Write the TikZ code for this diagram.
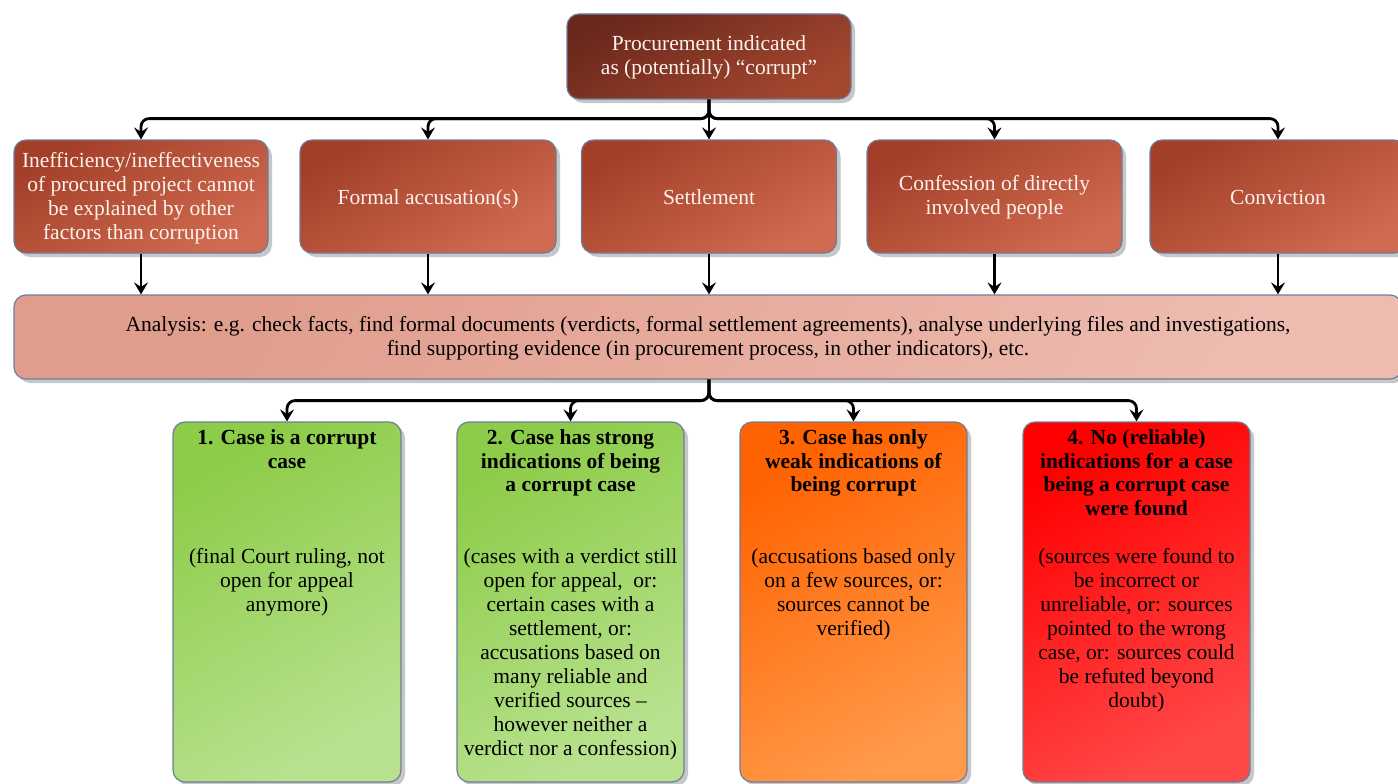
\documentclass[tikz,border=0pt]{standalone}
\usepackage{fontspec}
\setmainfont{Liberation Serif}
\usetikzlibrary{arrows.meta,shadows}

\definecolor{topA}{HTML}{6B281C}
\definecolor{topB}{HTML}{A3472F}
\definecolor{midA}{HTML}{A33F29}
\definecolor{midB}{HTML}{D06A50}
\definecolor{anaA}{HTML}{E09C8C}
\definecolor{anaB}{HTML}{EDBBAF}
\definecolor{grA}{HTML}{8DCC48}
\definecolor{grB}{HTML}{B9E290}
\definecolor{orA}{HTML}{FF6200}
\definecolor{orB}{HTML}{FF9A4A}
\definecolor{rdA}{HTML}{FF0000}
\definecolor{rdB}{HTML}{FF4848}
\definecolor{edge}{HTML}{6E7C9C}
\definecolor{lighttext}{HTML}{FBF3EC}

\tikzset{
  box/.style={draw=edge, line width=1.2pt, rounded corners=12pt, inner sep=0pt,
    align=center, font=\fontsize{21.5}{24}\selectfont,
    drop shadow={shadow xshift=4pt, shadow yshift=-4pt, fill=black!22, opacity=1}},
  grad/.style 2 args={top color=#1, bottom color=#2, shading angle=30},
  oneline/.style={text height=15pt, text depth=0pt},
  txt/.style={inner sep=0pt, align=center, font=\fontsize{21.5}{24}\selectfont},
  ttl/.style={txt, font=\fontsize{21.5}{23.7}\selectfont\bfseries},
  conn/.style={line width=2.8pt, rounded corners=8pt, -{Stealth[length=12pt,width=14pt,inset=4.5pt]}},
}

\begin{document}
\begin{tikzpicture}[x=1pt,y=1pt]
\useasboundingbox (0,0) rectangle (1398,-784);
\clip (0,0) rectangle (1398,-784);

% top
\node[box, grad={topA}{topB}, text=lighttext, minimum width=284pt, minimum height=85pt, text depth=2pt]
  (top) at (709,-56.5) {Procurement indicated\\as (potentially) ``corrupt''};

% middle row
\node[box, grad={midA}{midB}, text=lighttext, minimum width=254pt, minimum height=113pt, text depth=2pt]
  (m1) at (141,-196.5) {Inefficiency/ineffectiveness\\of procured project cannot\\be explained by other\\factors than corruption};
\node[box, grad={midA}{midB}, text=lighttext, minimum width=256pt, minimum height=113pt, oneline]
  (m2) at (428,-196.5) {Formal accusation(s)};
\node[box, grad={midA}{midB}, text=lighttext, minimum width=255pt, minimum height=113pt, oneline]
  (m3) at (709,-196.5) {Settlement};
\node[box, grad={midA}{midB}, text=lighttext, minimum width=255pt, minimum height=113pt, text depth=4pt]
  (m4) at (994.5,-196.5) {Confession of directly\\involved people};
\node[box, grad={midA}{midB}, text=lighttext, minimum width=256pt, minimum height=113pt, oneline]
  (m5) at (1278,-196.5) {Conviction};

% analysis
\node[box, top color=anaA, bottom color=anaB, shading angle=60, minimum width=1388pt, minimum height=84pt, text depth=2pt]
  (ana) at (708,-337) {Analysis: e.g. check facts, find formal documents (verdicts, formal settlement agreements), analyse underlying files and investigations,\\find supporting evidence (in procurement process, in other indicators), etc.};

% bottom row
\node[box, grad={grA}{grB}, minimum width=228pt, minimum height=360pt] (b1) at (287,-602) {};
\node[box, grad={grA}{grB}, minimum width=227pt, minimum height=360pt] (b2) at (570.5,-602) {};
\node[box, grad={orA}{orB}, minimum width=227pt, minimum height=360pt] (b3) at (853.5,-602) {};
\node[box, grad={rdA}{rdB}, minimum width=227pt, minimum height=360pt] (b4) at (1136.5,-602) {};

\node[ttl, anchor=north] (t1) at ([yshift=-8pt]b1.north) {1. Case is a corrupt\\case};
\node[ttl, anchor=north] (t2) at ([yshift=-8pt]b2.north) {2. Case has strong\\indications of being\\a corrupt case};
\node[ttl, anchor=north] (t3) at ([yshift=-8pt]b3.north) {3. Case has only\\weak indications of\\being corrupt};
\node[ttl, anchor=north] (t4) at ([yshift=-8pt]b4.north) {4. No (reliable)\\indications for a case\\being a corrupt case\\were found};

\node[txt, anchor=north] (d1) at (b1.north |- 0,-548) {(final Court ruling, not\\open for appeal\\anymore)};
\node[txt, anchor=north] (d2) at (b2.north |- 0,-548) {(cases with a verdict still\\open for appeal,\ \ or:\\certain cases with a\\settlement, or:\\accusations based on\\many reliable and\\verified sources --\\however neither a\\verdict nor a confession)};
\node[txt, anchor=north] (d3) at (b3.north |- 0,-548) {(accusations based only\\on a few sources, or:\\sources cannot be\\verified)};
\node[txt, anchor=north] (d4) at (b4.north |- 0,-548) {(sources were found to\\be incorrect or\\unreliable, or: sources\\pointed to the wrong\\case, or: sources could\\be refuted beyond\\doubt)};

% connectors top -> middle
\foreach \m in {m1,m2,m3,m4,m5}
  \draw[conn] (top.south) -- ++(0,-19) -| (\m.north);

% middle -> analysis
\foreach \m in {m1,m2,m3,m4,m5}
  \draw[conn] (\m.south) -- (\m.south |- ana.north);

% analysis -> bottom
\coordinate (anaout) at (ana.south -| top.south);
\foreach \b in {b1,b2,b3,b4}
  \draw[conn] (anaout) -- ++(0,-21) -| (\b.north);
\end{tikzpicture}
\end{document}
